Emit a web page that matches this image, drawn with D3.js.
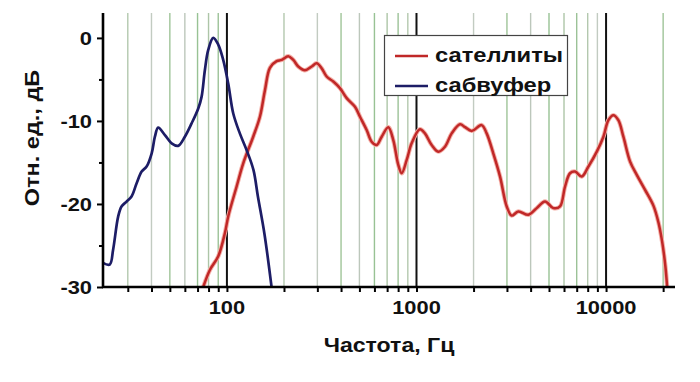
<!DOCTYPE html>
<html><head><meta charset="utf-8">
<script src="https://cdn.jsdelivr.net/npm/d3@7"></script>
<style>html,body{margin:0;padding:0;background:#fff;}svg{display:block;}</style>
</head><body>
<svg id="chart" width="700" height="382"></svg>
<script>
// ---- data ----
const subFreq = [22.2,24.1,25.1,26.7,27.8,29.6,31.4,33.4,35.5,37.7,40.1,41.7,43.4,47.1,51.1,55.3,60.0,65.1,70.6,73.5,76.5,79.7,84.7,90.0,95.6,101.6,108,117,127,138,145.7,158,172];
const subDb   = [-27.1,-27.3,-25.5,-21.5,-20.3,-19.7,-19.1,-17.5,-16.1,-15.5,-13.9,-11.9,-10.8,-11.7,-12.7,-13.0,-11.9,-10.3,-8.5,-7.1,-3.9,-1.45,0,-0.8,-2.65,-5.5,-9.1,-11.5,-13.5,-15.9,-19.1,-23.7,-30];
const satFreq = [75,81.3,90,97.6,101.6,112.5,121.9,137.6,149.3,158.7,168.6,182.9,194.4,210.6,224,237.9,258,280,297.4,316,335.8,364,394.7,428.3,473.7,503.5,546,580,616.6,655.4,710,754.4,801.7,835.6,888,943,1042,1108,1202,1303,1413,1533,1697,1803,1955,2207,2345,2541,2759,2992,3180,3446,3890,4306,4764,5272,5716,6076,6456,6860,7440,8066,8935,9683,10286,10927,11610,12340,13390,14520,16060,17770,18880,19750,20550,21000];
const satDb   = [-30,-27.95,-26.3,-23.5,-21.5,-17.9,-15.1,-11.9,-9.5,-6.3,-3.6,-2.8,-2.65,-2.2,-2.65,-3.45,-3.9,-3.45,-3.05,-3.65,-4.65,-5.25,-6.05,-7.25,-8.3,-9.5,-11.1,-12.5,-12.9,-11.9,-10.75,-12.3,-15.3,-16.3,-14.7,-12.7,-11.0,-11.5,-12.9,-13.7,-13.1,-11.5,-10.4,-10.75,-11.2,-10.5,-11.5,-13.9,-16.7,-20.3,-21.4,-20.9,-21.3,-20.5,-19.7,-20.5,-20.3,-17.9,-16.3,-16.1,-16.7,-15.5,-13.7,-11.9,-9.9,-9.3,-9.9,-11.9,-14.9,-16.5,-18.3,-20.2,-22.2,-24.5,-27.5,-30];
const seriesNames = ["сателлиты","сабвуфер"];
const gridFreqs = [30,40,50,60,70,80,90,200,300,400,500,600,700,800,900,2000,3000,4000,5000,6000,7000,8000,9000,20000];
const majorFreqs = [100,1000,10000];
const xTickLabels = ["100","1000","10000"];
const yTicks = [0,-10,-20,-30];
const yMinor = [-5,-15,-25];
const xTitle = "Частота, Гц";
const yTitle = "Отн. ед., дБ";

// ---- layout ----
const L = 103, R = 675, T = 13, B = 287;
const svg = d3.select("#chart");
const x = d3.scaleLog().domain([22.2, 23100]).range([L, R]);
const y = d3.scaleLinear().domain([-30, 3]).range([B, T]);
const FONT = "'Liberation Sans', Arial, sans-serif";
const gridCols = ["#b3c8ae","#c2cbc1","#9fc498","#bcc7bb","#98c294","#adc5a7","#9cc297"];

// gridlines
svg.append("g").selectAll("line").data(gridFreqs).join("line")
  .attr("x1", d => x(d)).attr("x2", d => x(d)).attr("y1", T).attr("y2", B)
  .attr("stroke", (d,i) => gridCols[i % gridCols.length]).attr("stroke-width", 1.4);
svg.append("g").selectAll("line").data(majorFreqs).join("line")
  .attr("x1", d => x(d)).attr("x2", d => x(d)).attr("y1", T).attr("y2", B)
  .attr("stroke", "#111").attr("stroke-width", 2);

// series
const line = d3.line().x(d => x(d[0])).y(d => y(d[1])).curve(d3.curveCatmullRom.alpha(0.5));
const sat = satFreq.map((f,i) => [f, satDb[i]]);
const sub = subFreq.map((f,i) => [f, subDb[i]]);
svg.append("path").datum(sat).attr("d", line).attr("fill","none")
  .attr("stroke","#f4b0a8").attr("stroke-width",4.4).attr("stroke-linejoin","round");
svg.append("path").datum(sat).attr("d", line).attr("fill","none")
  .attr("stroke","#c02828").attr("stroke-width",2.5).attr("stroke-linejoin","round");
svg.append("path").datum(sub).attr("d", line).attr("fill","none")
  .attr("stroke","#1d1d66").attr("stroke-width",2.7).attr("stroke-linejoin","round");

// axes
const xAxis = d3.axisBottom(x).tickValues(gridFreqs.concat(majorFreqs)).tickSize(5).tickFormat("");
const gx = svg.append("g").attr("transform", `translate(0,${B})`).call(xAxis);
gx.select(".domain").remove();
gx.selectAll(".tick line").attr("stroke","#000").attr("stroke-width",2);
const yAxis = d3.axisLeft(y).tickValues(yTicks).tickSize(6).tickFormat("");
const gy = svg.append("g").attr("transform", `translate(${L},0)`).call(yAxis);
gy.select(".domain").remove();
gy.selectAll(".tick line").attr("stroke","#000").attr("stroke-width",2);
const gy2 = svg.append("g").attr("transform", `translate(${L},0)`).call(d3.axisLeft(y).tickValues(yMinor).tickSize(4).tickFormat(""));
gy2.select(".domain").remove();
gy2.selectAll(".tick line").attr("stroke","#000").attr("stroke-width",2);
svg.append("line").attr("x1",L).attr("x2",L).attr("y1",T).attr("y2",B+1).attr("stroke","#000").attr("stroke-width",2.6);
svg.append("line").attr("x1",L-1).attr("x2",R).attr("y1",B).attr("y2",B).attr("stroke","#000").attr("stroke-width",2.6);

// text helper
function txt(g, s, tx, ty, size, anchor, sx, rot) {
  g.append("text").attr("transform", `translate(${tx},${ty})` + (rot ? ` rotate(${rot})` : "") + ` scale(${sx},1)`)
    .attr("text-anchor", anchor).attr("font-family", FONT).attr("font-weight","bold")
    .attr("font-size", size).attr("fill","#111").text(s);
}
xTickLabels.forEach((s,i) => txt(svg, s, x(majorFreqs[i]), 314, 19, "middle", 1.15));
yTicks.forEach(v => txt(svg, String(v), 92, y(v) + 7, 19, "end", 1.15));
txt(svg, xTitle, 389, 352, 21, "middle", 1.1);
txt(svg, yTitle, 39, 138, 21, "middle", 1.12, -90);

// legend
const lg = svg.append("g");
lg.append("rect").attr("x",384.5).attr("y",35.5).attr("width",183).attr("height",60)
  .attr("fill","#fff").attr("stroke","#444").attr("stroke-width",1.2);
const legCols = ["#c02828","#1d1d66"];
seriesNames.forEach((s,i) => {
  const yy = 56 + i * 30;
  lg.append("line").attr("x1",395).attr("x2",428).attr("y1",yy).attr("y2",yy)
    .attr("stroke",legCols[i]).attr("stroke-width",2.4);
  txt(lg, s, 435, yy + 6, 21, "start", 1.13);
});
</script>
</body></html>
